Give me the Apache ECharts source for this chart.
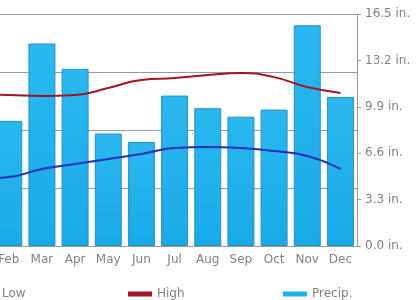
<!DOCTYPE html>
<html>
<head>
<meta charset="utf-8">
<script src="https://cdn.jsdelivr.net/npm/echarts@6/dist/echarts.min.js"></script>
<style>
  html, body { margin: 0; padding: 0; background: #fff; }
  #chart { width: 417px; height: 300px; }
</style>
</head>
<body>
<div id="chart"></div>
<script>
var months = ['Jan', 'Feb', 'Mar', 'Apr', 'May', 'Jun', 'Jul', 'Aug', 'Sep', 'Oct', 'Nov', 'Dec'];
var highTemp = [65.3, 65.1, 64.7, 65.1, 68.1, 71.6, 72.4, 73.7, 74.6, 72.8, 68.5, 65.9];
var lowTemp = [29.0, 29.7, 33.2, 35.3, 37.5, 39.7, 42.2, 42.7, 42.2, 40.9, 38.8, 33.2];
var precip = [9.4, 8.9, 14.4, 12.6, 8.0, 7.4, 10.7, 9.8, 9.2, 9.7, 15.7, 10.6];

var font = 'DejaVu Sans';
var grey = '#808080';

function legendAt(left, name, color) {
    return {
        left: left,
        top: 283,
        itemWidth: 24,
        itemHeight: 5,
        itemGap: 0,
        icon: 'rect',
        selectedMode: false,
        data: [{ name: name, itemStyle: { color: color, borderWidth: 0 } }],
        textStyle: { color: grey, fontFamily: font, fontSize: 12 }
    };
}

var chart = echarts.init(document.getElementById('chart'));
chart.setOption({
    animation: false,
    grid: { left: -41, right: 60, top: 14, bottom: 54, containLabel: false, outerBoundsMode: 'none' },
    legend: [
        legendAt(-32, 'Low', '#1f2fb5'),
        legendAt(123, 'High', '#a31522'),
        legendAt(278, 'Precip.', '#1cb0ec')
    ],
    xAxis: {
        type: 'category',
        data: months,
        axisLine: { show: false },
        axisTick: { show: false },
        axisLabel: { interval: 0, color: grey, fontFamily: font, fontSize: 12, margin: 8 }
    },
    yAxis: [{
        type: 'value',
        min: 0,
        max: 100,
        interval: 25,
        axisLabel: { show: false },
        axisLine: { show: false },
        axisTick: { show: false },
        splitLine: { lineStyle: { color: '#999' } }
    }, {
        type: 'value',
        position: 'right',
        min: 0,
        max: 16.5,
        interval: 3.3,
        axisLine: { show: true, lineStyle: { color: '#999' } },
        axisTick: { show: true, length: 4, lineStyle: { color: '#999' } },
        splitLine: { show: false },
        axisLabel: {
            color: grey, fontFamily: font, fontSize: 12, margin: 8,
            formatter: function (v) { return v.toFixed(1) + ' in.'; }
        }
    }],
    series: [{
        name: 'Precip.',
        type: 'bar',
        yAxisIndex: 1,
        barWidth: 27,
        data: precip,
        itemStyle: {
            color: new echarts.graphic.LinearGradient(0, 0, 0, 1, [
                { offset: 0, color: '#2bb8f0' },
                { offset: 1, color: '#18aae8' }
            ]),
            borderColor: '#2a8fbf',
            borderWidth: 1
        }
    }, {
        name: 'High',
        type: 'line',
        data: highTemp,
        smooth: true,
        symbol: 'none',
        lineStyle: { color: '#a31522', width: 2 }
    }, {
        name: 'Low',
        type: 'line',
        data: lowTemp,
        smooth: true,
        symbol: 'none',
        lineStyle: { color: '#1f2fb5', width: 2 }
    }]
});
</script>
</body>
</html>
